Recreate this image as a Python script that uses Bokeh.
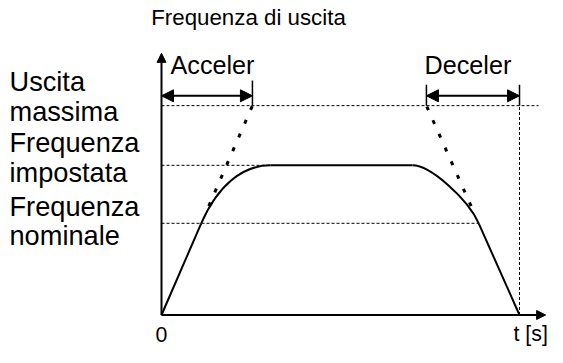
from bokeh.plotting import figure
from bokeh.models import Range1d, Arrow, NormalHead
from bokeh.core.properties import value
from bokeh.embed import file_html
from bokeh.resources import INLINE

# ---------------- data (schematic units: t 0..100, f 0..100 = max output) ----
f_max = 100.0          # Uscita massima
f_set = 71.5           # Frequenza impostata
f_nom = 43.8           # Frequenza nominale
t_acc = 25.4           # end of nominal acceleration ramp (reaches f_max)
t_dec = 74.0           # start of nominal deceleration ramp (from f_max)
t_stop = 100.0         # stop time
t_nom = [11.1, 88.6]   # where the real curve leaves / rejoins the ramps
t_plateau = [30.4, 70.1]
# bezier handles of the rounded corners (accel, decel)
acc_ctrl = [(15.6, 61.5), (22.4, 71.5)]
dec_ctrl = [(75.1, 71.5), (85.6, 55.4)]
f_dot_start = 52.0     # where dotted ramp extensions start
y_axis_top = 125.0
x_axis_end = 107.3
f_max_line_end = 105.3
bar_acc_top = 112.0
bar_dec_top = 110.0
arrow_f = 104.7

title_text = "Frequenza di uscita"
acc_text = "Acceler"
dec_text = "Deceler"
left_labels = ["Uscita", "massima", "Frequenza", "impostata", "Frequenza", "nominale"]
zero_text = "0"
t_text = "t [s]"

# ---------------- layout: map reference-picture pixels to data --------------
RH = 363                # reference picture height
W, H = 547, 347         # figure size (fits the window with its 8px margin)
FS = 0.97               # font scale reference -> figure
X0, Y0 = 161.0, 329.0   # reference pixel of origin
SX, SY = 3.58, 2.19     # reference pixels per unit
TSHIFT = 10             # text baseline correction (reference px)


def dx(px):
    return (px - X0) / SX


def dy(py):
    return (Y0 - py) / SY


def ty(py):
    return dy(py - TSHIFT)


def fs(px):
    return value(f"{px * FS:.1f}px")


p = figure(width=W, height=H, output_backend="svg", toolbar_location=None,
           x_range=Range1d(dx(0), dx(W)), y_range=Range1d(dy(RH), dy(0)),
           min_border=0, outline_line_color=None)
p.axis.visible = False
p.grid.visible = False
p.background_fill_color = "white"
p.border_fill_color = "white"

FONT = value("Liberation Sans")
K = "black"

# dashed reference lines
p.line([0, f_max_line_end], [f_max, f_max], line_color=K, line_width=1, line_dash="3 2")
p.line([0, t_plateau[0]], [f_set, f_set], line_color=K, line_width=1, line_dash="3 2")
p.line([0, t_nom[1]], [f_nom, f_nom], line_color=K, line_width=1, line_dash="3 2")
p.line([t_stop, t_stop], [0, f_max], line_color=K, line_width=1, line_dash="3 2")

# dotted ramp extensions
p.line([t_acc * f_dot_start / f_max, t_acc], [f_dot_start, f_max],
       line_color=K, line_width=3, line_dash="4 11")
p.line([t_stop - (t_stop - t_dec) * f_dot_start / f_max, t_dec], [f_dot_start, f_max],
       line_color=K, line_width=3, line_dash="4 11")

# real output frequency curve
p.line([0, t_nom[0]], [0, f_nom], line_color=K, line_width=2)
p.bezier(x0=[t_nom[0]], y0=[f_nom], x1=[t_plateau[0]], y1=[f_set],
         cx0=[acc_ctrl[0][0]], cy0=[acc_ctrl[0][1]], cx1=[acc_ctrl[1][0]], cy1=[acc_ctrl[1][1]],
         line_color=K, line_width=2)
p.line(t_plateau, [f_set, f_set], line_color=K, line_width=2)
p.bezier(x0=[t_plateau[1]], y0=[f_set], x1=[t_nom[1]], y1=[f_nom],
         cx0=[dec_ctrl[0][0]], cy0=[dec_ctrl[0][1]], cx1=[dec_ctrl[1][0]], cy1=[dec_ctrl[1][1]],
         line_color=K, line_width=2)
p.line([t_nom[1], t_stop], [f_nom, 0], line_color=K, line_width=2)

# bars at arrow ends
p.line([t_acc, t_acc], [f_max, bar_acc_top], line_color=K, line_width=1.5)
p.line([t_dec, t_dec], [f_max, bar_dec_top], line_color=K, line_width=1.5)
p.line([t_stop, t_stop], [f_max, bar_dec_top], line_color=K, line_width=1.5)

# axes with arrows
p.add_layout(Arrow(end=NormalHead(size=9, fill_color=K, line_color=K), line_width=2,
                   x_start=0, y_start=0, x_end=0, y_end=y_axis_top, line_color=K))
p.add_layout(Arrow(end=NormalHead(size=9, fill_color=K, line_color=K), line_width=2,
                   x_start=0, y_start=0, x_end=x_axis_end, y_end=0, line_color=K))

# double arrows
for a, b in [(0, t_acc), (t_dec, t_stop)]:
    p.add_layout(Arrow(start=NormalHead(size=12, fill_color=K, line_color=K),
                       end=NormalHead(size=12, fill_color=K, line_color=K),
                       x_start=a, y_start=arrow_f, x_end=b, y_end=arrow_f,
                       line_color=K, line_width=2))

# texts
p.text(x=[dx(248)], y=[ty(28)], text=[title_text], text_font=FONT,
       text_font_size=fs(23), text_align="center", text_baseline="alphabetic",
       text_color=K)
p.text(x=[dx(170), dx(424)], y=[ty(77), ty(77)], text=[acc_text, dec_text], text_font=FONT,
       text_font_size=fs(26), text_align="left", text_baseline="alphabetic",
       text_color=K)
p.text(x=[dx(9)] * len(left_labels), y=[ty(v) for v in [95, 126, 159, 190, 226, 256]],
       text=left_labels, text_font=FONT, text_font_size=fs(28),
       text_align="left", text_baseline="alphabetic", text_color=K)
p.text(x=[dx(155), dx(513)], y=[ty(359), ty(359)], text=[zero_text, t_text], text_font=FONT,
       text_font_size=fs(22), text_align="left", text_baseline="alphabetic",
       text_color=K)

open("out.html", "w").write(file_html(p, INLINE))
